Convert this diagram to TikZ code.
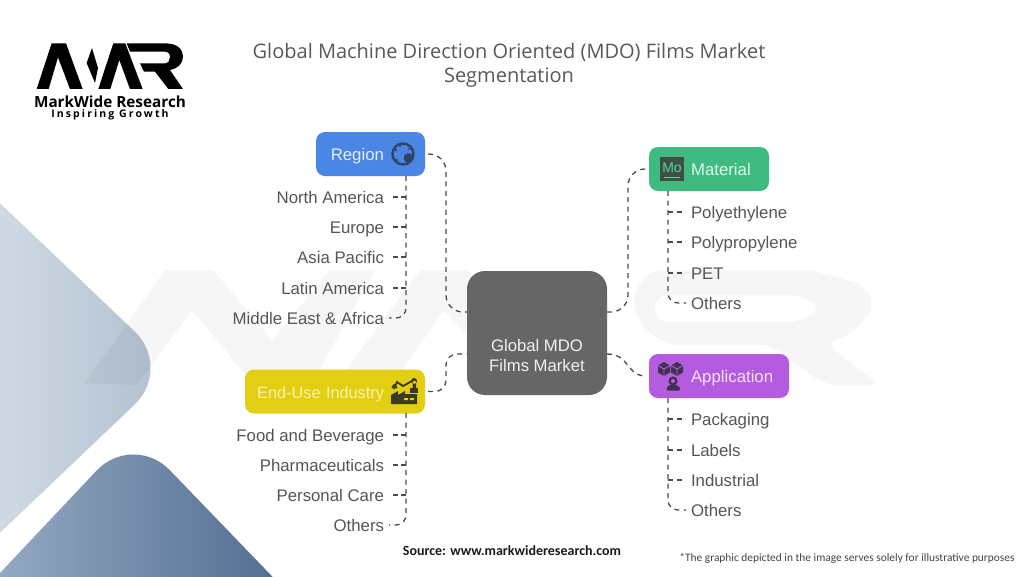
\documentclass[tikz,border=0pt]{standalone}
\usepackage{fontspec}
\setmainfont{Liberation Sans}
\newfontfamily\titlefont{Open Sans}
\newfontfamily\footfont{Carlito}
\newfontfamily\logofont[LetterSpace=0]{Open Sans}
\newfontfamily\logospaced[LetterSpace=20]{Open Sans}
\usetikzlibrary{calc}
\definecolor{itemtext}{HTML}{555555}
\definecolor{linecol}{HTML}{4A4A4A}
\definecolor{regionc}{HTML}{4A86E4}
\definecolor{materialc}{HTML}{3FBB82}
\definecolor{appc}{HTML}{B45CE0}
\definecolor{endc}{HTML}{E2CF14}
\definecolor{centerc}{HTML}{666666}
\definecolor{titlec}{HTML}{595959}
\definecolor{shapeAl}{HTML}{E2E8EF}
\definecolor{shapeAr}{HTML}{B0BFCF}
\definecolor{shapeBl}{HTML}{AABDD4}
\definecolor{shapeBr}{HTML}{3F5B81}
\definecolor{centertxt}{HTML}{F0F0F0}
\definecolor{regiontxt}{HTML}{E3EEFF}
\definecolor{materialtxt}{HTML}{DDF7EA}
\definecolor{endtxt}{HTML}{FBF3A8}
\definecolor{apptxt}{HTML}{F3E2FF}
\definecolor{globec}{HTML}{2F4468}
\definecolor{moback}{HTML}{3F4F48}
\definecolor{mofront}{HTML}{55D79A}
\definecolor{factoryc}{HTML}{3B3A26}
\definecolor{cubec}{HTML}{3F3350}
\definecolor{sourcec}{HTML}{1A1A1A}
\definecolor{notec}{HTML}{444444}
\tikzset{
  boxnode/.style={rounded corners=9pt,inner sep=0pt,outer sep=0pt,minimum height=44pt,font=\fontsize{16.8}{20}\selectfont,text height=13pt,text depth=0pt},
  itemnode/.style={inner sep=0pt,outer sep=0pt,text=itemtext,font=\fontsize{16.8}{20}\selectfont,text height=13pt,text depth=0pt},
  conn/.style={draw=linecol,line width=1.3pt,dash pattern=on 5pt off 4.5pt},
  branch/.style={draw=linecol,line width=1.3pt,dash pattern=on 5pt off 3.5pt}
}
\newcommand{\cubeicon}[2]{%
  \fill[#2] ($(#1)+(0,-7)$) -- ($(#1)+(6,-3.5)$) -- ($(#1)+(6,3.5)$) -- ($(#1)+(0,7)$) -- ($(#1)+(-6,3.5)$) -- ($(#1)+(-6,-3.5)$) -- cycle;
  \draw[appc,line width=.9pt] ($(#1)+(-6,-3.5)$) -- (#1) -- ($(#1)+(6,-3.5)$) (#1) -- ($(#1)+(0,7)$);
}
\begin{document}
\begin{tikzpicture}[x=1pt,y=-1pt]
\useasboundingbox (0,0) rectangle (1024,576);
\fill[white] (0,0) rectangle (1024,576);
% background shapes
\begin{scope}
\clip (0,0) rectangle (1024,576);
\path[rounded corners=53pt,left color=shapeAl,right color=shapeAr] (-100,108) -- (173,368) -- (-100,628) -- cycle;
\path[rounded corners=53pt,left color=shapeBl,right color=shapeBr] (-100,679) -- (133,432) -- (370,678) -- cycle;
% watermark
\begin{scope}[fill=black,opacity=.035]
\fill (85,383) -- (165,270) -- (213,270) -- (272,340) -- (330,270) -- (375,270) -- (311,385) -- (254,385) -- (192,310) -- (137,385) -- cycle;
\fill (335,385) -- (420,270) -- (468,270) -- (570,385) -- (513,385) -- (444,310) -- (392,385) -- cycle;
\fill[even odd rule,rounded corners=12pt] (632,295) -- (650,270) -- (810,270) -- (865,285) -- (875,308) -- (850,335) -- (825,343) -- (880,385) -- (825,385) -- (770,345) -- (667,345) -- (640,325) -- cycle (655,295) -- (800,295) -- (822,308) -- (800,322) -- (655,322) -- cycle;
\end{scope}
\end{scope}
% logo
\begin{scope}[shift={(0,20)},x=.3333pt,y=-.3333pt]
\fill[black] (110,207) -- (155,70) -- (198,70) -- (248,207) -- (210,207) -- (174,112) -- (146,207) -- cycle;
\fill[black] (276,84) -- (294,144) -- (285,189) -- (260,129) -- cycle;
\fill[black] (295,207) -- (340,70) -- (376,70) -- (428,207) -- (390,207) -- (358,120) -- (331,207) -- cycle;
\fill[black] (380,70) -- (495,70) .. controls (535,70) and (549,90) .. (549,110) .. controls (549,130) and (535,145) .. (510,150) -- (549,207) -- (505,207) -- (465,155) -- (432,155) -- (420,130) -- (495,130) .. controls (505,130) and (510,120) .. (510,112) .. controls (510,102) and (505,95) .. (495,95) -- (390,95) -- cycle;
\end{scope}
\node[inner sep=0pt,font=\logofont\bfseries\fontsize{15.3}{16}\selectfont,text=black] (logoname) at (110,101.5) {MarkWide Research};
\node[inner sep=0pt,font=\logospaced\bfseries\fontsize{10.5}{12}\selectfont,text=black] (logotag) at (110,114.5) {Inspiring Growth};
% title
\node[inner sep=0pt,align=center,text=titlec,font=\titlefont\fontsize{20}{24.5}\selectfont] (title) at (509,65.5) {Global Machine Direction Oriented (MDO) Films Market\\Segmentation};
% central node
\node[fill=centerc,rounded corners=18pt,minimum width=140pt,minimum height=124pt,inner sep=0pt,outer sep=0pt] (center) at (537,333) {};
\node[inner sep=0pt,align=center,text=centertxt,font=\fontsize{16.7}{20}\selectfont] (centerlbl) at (537,356) {Global MDO\\Films Market};
% category boxes
\node[boxnode,fill=regionc,minimum width=109pt,text width=109pt,align=right,text=regiontxt] (region) at (370.5,154) {Region\rule{41pt}{0pt}};
\node[boxnode,fill=materialc,minimum width=120pt,text width=120pt,align=left,text=materialtxt] (material) at (709,169) {\rule{42pt}{0pt}Material};
\node[boxnode,fill=endc,minimum width=180pt,text width=180pt,align=right,text=endtxt,font=\fontsize{16.3}{20}\selectfont] (enduse) at (335,391.5) {End-Use Industry\rule{41pt}{0pt}};
\node[boxnode,fill=appc,minimum width=140pt,text width=140pt,align=left,text=apptxt] (application) at (719,376) {\rule{42pt}{0pt}Application};
% region items
\node[itemnode,anchor=east] (r1) at (384,197) {North America};
\node[itemnode,anchor=east] (r2) at (384,227) {Europe};
\node[itemnode,anchor=east] (r3) at (384,257) {Asia Pacific};
\node[itemnode,anchor=east] (r4) at (384,288) {Latin America};
\node[itemnode,anchor=east] (r5) at (384,318) {Middle East \& Africa};
% material items
\node[itemnode,anchor=west] (m1) at (691,212) {Polyethylene};
\node[itemnode,anchor=west] (m2) at (691,242) {Polypropylene};
\node[itemnode,anchor=west] (m3) at (691,273) {PET};
\node[itemnode,anchor=west] (m4) at (691,303) {Others};
% end-use items
\node[itemnode,anchor=east] (e1) at (384,435) {Food and Beverage};
\node[itemnode,anchor=east] (e2) at (384,465) {Pharmaceuticals};
\node[itemnode,anchor=east] (e3) at (384,495) {Personal Care};
\node[itemnode,anchor=east] (e4) at (384,525) {Others};
% application items
\node[itemnode,anchor=west] (a1) at (691,419) {Packaging};
\node[itemnode,anchor=west] (a2) at (691,450) {Labels};
\node[itemnode,anchor=west] (a3) at (691,480) {Industrial};
\node[itemnode,anchor=west] (a4) at (691,510) {Others};
% spine reference coordinates
\coordinate (spineR) at (406,176);
\coordinate (spineM) at (668,191);
\coordinate (spineE) at (406,413);
\coordinate (spineA) at (668,398);
\coordinate (busL) at (446,333);
\coordinate (busM) at (628,333);
\coordinate (busE) at (446,373);
\coordinate (ctl) at ([yshift=21pt]center.west);
\coordinate (ctr) at ([yshift=21pt]center.east);
\coordinate (cbl) at ([yshift=-21pt]center.west);
\coordinate (cbr) at ([yshift=-21pt]center.east);
% main connectors
\draw[conn,rounded corners=17pt] ([xshift=3pt]region.east) -- (region.east -| busL) -- (busL |- ctl) -- (ctl);
\draw[conn,rounded corners=17pt] (ctr) -- (busM |- ctr) -- (busM |- material.west) -- ([xshift=-3pt]material.west);
\draw[conn,rounded corners=11pt] ([xshift=3pt]enduse.east) -- (enduse.east -| busE) -- (busE |- cbl) -- (cbl);
\draw[conn] (cbr) .. controls (630,354) and (626,376) .. ([xshift=-3pt]application.west);
% spines
\draw[conn,rounded corners=10pt] (spineR) -- (spineR |- r5.east) -- ([xshift=5pt]r5.east);
\draw[conn,rounded corners=10pt] (spineM) -- (spineM |- m4.west) -- ([xshift=-5pt]m4.west);
\draw[conn,rounded corners=10pt] (spineE) -- (spineE |- e4.east) -- ([xshift=5pt]e4.east);
\draw[conn,rounded corners=10pt] (spineA) -- (spineA |- a4.west) -- ([xshift=-5pt]a4.west);
% branches
\foreach \n in {r1,r2,r3,r4}{\draw[branch] (spineR |- \n.east) -- ([xshift=6pt]\n.east);}
\foreach \n in {e1,e2,e3}{\draw[branch] (spineE |- \n.east) -- ([xshift=6pt]\n.east);}
\foreach \n in {m1,m2,m3}{\draw[branch] (spineM |- \n.west) -- ([xshift=-6pt]\n.west);}
\foreach \n in {a1,a2,a3}{\draw[branch] (spineA |- \n.west) -- ([xshift=-6pt]\n.west);}
% region icon
\draw[globec,line width=2.4pt] (403,154) circle (10.5);
\fill[globec] (408.5,158) circle (5);
\fill[globec] (396,150) circle (1.4) (400,146) circle (1.2) (397,160) circle (1.2) (403,164) circle (1.1) (409,149) circle (1.2);
% material icon
\fill[moback] (660,157) rectangle (684,181);
\node[inner sep=0pt,text=mofront,font=\fontsize{14}{14}\selectfont] (moicon) at (672,168) {Mo};
\draw[mofront,line width=1pt] (664,177) -- (680,177);
% end-use icon
\fill[factoryc] (391,404) -- (391,395) -- (398,391) -- (398,395) -- (405,391) -- (405,394) -- (417,394) -- (417,404) -- cycle;
\fill[endc] (404,398) rectangle (408,400) (410,398) rectangle (414,400);
\draw[factoryc,line width=1.8pt] (394,389) -- (397,382) -- (403,386) -- (412,381);
\draw[factoryc,line width=1.6pt] (392,388) -- (394,385) -- (397,388);
\fill[factoryc] (414,381) circle (3) (412.5,381) rectangle (416,392);
\fill[factoryc] (410,388) rectangle (417.5,392.5);
% application icon
\coordinate (cubeA) at (664,369);
\coordinate (cubeB) at (677,369);
\cubeicon{cubeA}{cubec}
\cubeicon{cubeB}{cubec}
\draw[cubec,line width=2.2pt] (673,381) circle (3.4);
\fill[cubec,rounded corners=2pt] (666,390.5) -- (668,385) -- (678,385) -- (681,390.5) -- cycle;
% footer
\node[inner sep=0pt,text=sourcec,font=\footfont\bfseries\fontsize{14}{16}\selectfont] (source) at (512,551) {Source: www.markwideresearch.com};
\node[inner sep=0pt,text=notec,font=\footfont\fontsize{11.4}{14}\selectfont] (note) at (847,558) {*The graphic depicted in the image serves solely for illustrative purposes};
\end{tikzpicture}
\end{document}
